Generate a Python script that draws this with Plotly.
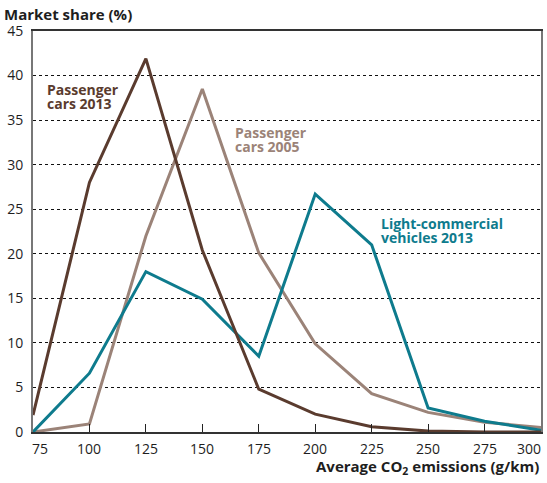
import plotly.graph_objects as go

# CO2 emission bands (g/km)
emissions = [75, 100, 125, 150, 175, 200, 225, 250, 275, 300]
x_tick_labels = ["75", "100", "125", "150", "175", "200", "225", "250", "275", "300"]

# Market share (%) per emission band
pc_2013 = [1.9, 28.0, 41.9, 20.4, 4.8, 2.0, 0.6, 0.1, 0.0, 0.0]
pc_2005 = [0.0, 0.9, 22.0, 38.5, 20.1, 9.9, 4.3, 2.2, 1.1, 0.5]
lcv_2013 = [0.0, 6.6, 18.0, 14.9, 8.5, 26.7, 21.0, 2.7, 1.2, 0.2]

y_ticks = [0, 5, 10, 15, 20, 25, 30, 35, 40, 45]

DARK_BROWN = "#5a3b2e"
LIGHT_BROWN = "#9b8378"
TEAL = "#0e7b8d"
TEXT = "#1e1e1e"
FONT = "Open Sans"

series = [
    ("Passenger cars 2005", pc_2005, LIGHT_BROWN),
    ("Light-commercial vehicles 2013", lcv_2013, TEAL),
    ("Passenger cars 2013", pc_2013, DARK_BROWN),
]

fig = go.Figure()
for name, vals, color in series:
    fig.add_trace(go.Scatter(
        x=emissions, y=vals, mode="lines", name=name,
        line=dict(color=color, width=3), cliponaxis=False,
    ))

# Series labels, one annotation per text line for tight line spacing
labels = [
    (["Passenger", "cars 2013"], 80.1, [38.45, 36.85], DARK_BROWN),
    (["Passenger", "cars 2005"], 163.4, [33.6, 32.0], LIGHT_BROWN),
    (["Light-commercial", "vehicles 2013"], 228.3, [23.4, 21.85], TEAL),
]
for lines, x, ys, color in labels:
    for line, y in zip(lines, ys):
        fig.add_annotation(
            x=x, y=y, xref="x", yref="y", text=f"<b>{line}</b>",
            showarrow=False, xanchor="left", yanchor="middle", align="left",
            font=dict(family=FONT, size=14, color=color),
        )

# x tick labels, nudged inward at both ends of the axis
for val, lab in zip(emissions, x_tick_labels):
    shift = 7 if val == emissions[0] else (-12 if val == emissions[-1] else 0)
    fig.add_annotation(
        x=val, y=0, xref="x", yref="y", yshift=-16, xshift=shift,
        text=lab, showarrow=False, xanchor="center", yanchor="middle",
        font=dict(family=FONT, size=14, color=TEXT),
    )

fig.add_annotation(
    x=-0.061, y=1.042, xref="paper", yref="paper", xanchor="left", yanchor="middle",
    text="<b>Market share (%)</b>", showarrow=False,
    font=dict(family=FONT, size=15, color=TEXT),
)
fig.add_annotation(
    x=1.0, y=-0.087, xref="paper", yref="paper", xanchor="right", yanchor="middle",
    text="<b>Average CO<sub>2</sub> emissions (g/km)</b>", showarrow=False,
    font=dict(family=FONT, size=15, color=TEXT),
)

fig.update_layout(
    width=547, height=483,
    margin=dict(l=33, r=4, t=31, b=51),
    paper_bgcolor="white", plot_bgcolor="white",
    showlegend=False,
    font=dict(family=FONT, size=14, color=TEXT),
    xaxis=dict(
        range=[75, 300], tickvals=emissions, ticks="inside", ticklen=8,
        tickcolor="#222222", tickwidth=1.2, showticklabels=False,
        showgrid=False, zeroline=False,
        showline=True, linecolor="#333333", linewidth=2, mirror=True,
    ),
    yaxis=dict(
        range=[0, 45], tickvals=y_ticks, ticks="", ticklabelstandoff=5,
        showgrid=True, gridcolor="#111111", griddash="dot", gridwidth=1,
        zeroline=False,
        showline=True, linecolor="#777777", linewidth=2, mirror=True,
        tickfont=dict(family=FONT, size=14, color=TEXT),
    ),
)

fig.write_html("out.html")
